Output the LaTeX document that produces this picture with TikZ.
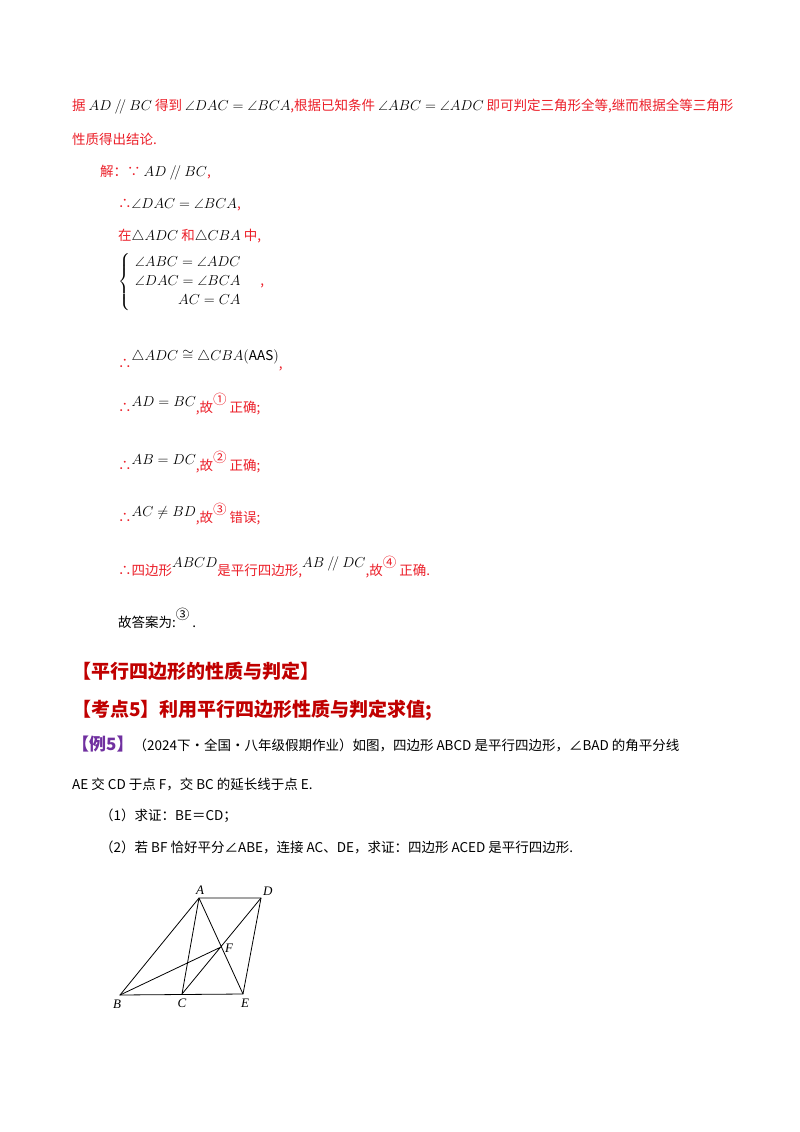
\documentclass[tikz,border=0pt]{standalone}
\usepackage{fontspec}
\usepackage{amsmath,amssymb}
\setmainfont{Noto Sans CJK SC}
\newfontfamily\lab{Liberation Serif}
\definecolor{rd}{RGB}{235,30,40}
\definecolor{hd}{RGB}{192,0,0}
\definecolor{pp}{RGB}{112,48,160}
\tikzset{
 t/.style={anchor=base west,inner sep=0pt,font=\fontsize{13.5}{16}\selectfont},
 r/.style={t,text=rd},
 b/.style={t,text=black},
 h/.style={anchor=base west,inner sep=0pt,text=hd,font=\fontsize{19}{22}\selectfont\bfseries},
 pt/.style={inner sep=0pt,font=\fontsize{13}{14}\selectfont\lab\itshape},
 ln/.style={line width=0.8pt}
}
\newcommand{\mm}[1]{{\color{black}$#1$}}
\begin{document}
\begin{tikzpicture}[x=1pt,y=-1pt]
\useasboundingbox (0,0) rectangle (800,1132);
\node[r] (l1) at (72,110) {据 \mm{AD\mathbin{/\!/}BC} 得到 \mm{\angle DAC=\angle BCA},根据已知条件 \mm{\angle ABC=\angle ADC} 即可判定三角形全等,继而根据全等三角形};
\node[r] (l2) at (72,144) {性质得出结论.};
\node[r] (l3) at (100,176) {解：∵ \mm{AD\mathbin{/\!/}BC},};
\node[r] (l4) at (118,208) {∴\mm{\angle DAC=\angle BCA},};
\node[r] (l5) at (118,240) {在\mm{\triangle ADC} 和\mm{\triangle CBA} 中,};
\node[r,anchor=west] (l6) at (118,282) {\mm{\left\{\begin{array}{r}\angle ABC=\angle ADC\\[3pt] \angle DAC=\angle BCA\\[3pt] AC=CA\end{array}\right.}\quad ,};
\node[r] (l7) at (118,368) {∴\raisebox{8pt}{\mm{\triangle ADC\cong\triangle CBA(\mathrm{AAS})}},};
\node[r] (l8) at (118,412) {∴\raisebox{6pt}{\mm{AD=BC}},故\raisebox{8pt}{①} 正确;};
\node[r] (l9) at (118,470) {∴\raisebox{6pt}{\mm{AB=DC}},故\raisebox{8pt}{②} 正确;};
\node[r] (l10) at (118,522) {∴\raisebox{6pt}{\mm{AC\neq BD}},故\raisebox{8pt}{③} 错误;};
\node[r] (l11) at (118,575) {∴四边形\raisebox{8pt}{\mm{ABCD}}是平行四边形,\raisebox{8pt}{\mm{AB\mathbin{/\!/}DC}},故\raisebox{8pt}{④} 正确.};
\node[b] (l12) at (118,627) {故答案为:\raisebox{8pt}{③} .};
\node[h] (h1) at (72,678) {【平行四边形的性质与判定】};
\node[h] (h2) at (72,716) {【考点5】利用平行四边形性质与判定求值;};
\node[b] (l13) at (72,750) {\textcolor{pp}{\bfseries\fontsize{17}{18}\selectfont【例5】}（2024下·全国·八年级假期作业）如图，四边形 ABCD 是平行四边形，∠BAD 的角平分线};
\node[b] (l14) at (72,789) {AE 交 CD 于点 F，交 BC 的延长线于点 E.};
\node[b] (l15) at (100,820) {（1）求证：BE＝CD；};
\node[b] (l16) at (100,852) {（2）若 BF 恰好平分∠ABE，连接 AC、DE，求证：四边形 ACED 是平行四边形.};
% figure
\coordinate (A) at (199,898);
\coordinate (D) at (261,898);
\coordinate (B) at (120,995);
\coordinate (C) at (182,994);
\coordinate (E) at (243,994);
\coordinate (F) at (221,947);
\draw[ln] (A)--(D)--(E)--(B)--cycle;
\draw[ln] (A)--(C) (A)--(E) (C)--(D) (B)--(F);
\node[pt,anchor=south] (nA) at ([xshift=1pt,yshift=3pt]A) {A};
\node[pt,anchor=south west] (nD) at ([xshift=2pt,yshift=2pt]D) {D};
\node[pt,anchor=north] (nB) at ([xshift=-3pt,yshift=-5pt]B) {B};
\node[pt,anchor=north] (nC) at ([yshift=-5pt]C) {C};
\node[pt,anchor=north] (nE) at ([xshift=2pt,yshift=-5pt]E) {E};
\node[pt,anchor=west] (nF) at ([xshift=4pt,yshift=-1pt]F) {F};
\end{tikzpicture}
\end{document}
